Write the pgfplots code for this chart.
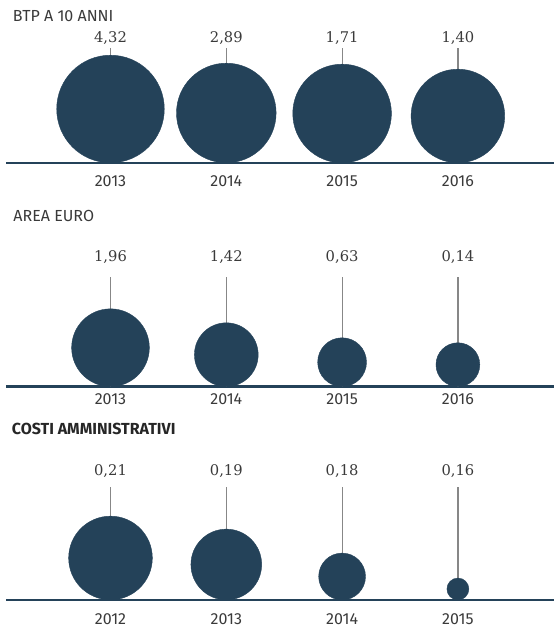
\documentclass[border=0pt]{standalone}
\usepackage{pgfplots}
\pgfplotsset{compat=1.18}
\usepackage{pgfplotstable}
\usepackage{fontspec}
\setmainfont{Fira Sans}
\newfontfamily\numfont{DejaVu Serif}

\definecolor{navy}{RGB}{36,66,89}
\definecolor{stem}{RGB}{135,135,135}
\definecolor{txt}{RGB}{58,58,58}

% x = position, d = bubble diameter (px), val = label, year = tick
\pgfplotstableread{
x d val year
0 108 4,32 2013
1 100 2,89 2014
2 99 1,71 2015
3 94 1,40 2016
}\btp
\pgfplotstableread{
x d val year
0 78 1,96 2013
1 64 1,42 2014
2 49 0,63 2015
3 44 0,14 2016
}\euro
\pgfplotstableread{
x d val year
0 84 0,21 2012
1 71 0,19 2013
2 47 0,18 2014
3 22 0,16 2015
}\costi

\pgfplotsset{
  panel/.style={
    scale only axis, width=548bp,
    xmin=-0.9024, xmax=3.8299,
    axis line style={draw=none}, tick style={draw=none},
    ytick=\empty, xtick={0,1,2,3},
    xticklabel style={inner sep=0pt, anchor=north, text=txt,
      font=\fontsize{16bp}{16bp}\selectfont},
    clip=false, anchor=south west,
  },
  bubbles/.style={scatter, only marks, mark=*,
    scatter/use mapped color={draw=navy, fill=navy},
    visualization depends on={\thisrow{d}/2 \as \rad},
    scatter/@pre marker code/.append style={/tikz/mark size=\rad}},
  vals/.style={draw=none, mark=none, nodes near coords,
    point meta=explicit symbolic,
    every node near coord/.append style={anchor=base, inner sep=0pt, text=txt,
      font=\numfont\fontsize{14.7bp}{14.7bp}\selectfont}},
}

\begin{document}
\begin{tikzpicture}
\useasboundingbox (0,0) rectangle (554bp,628bp);

% BTP A 10 ANNI
\begin{axis}[panel, at={(6bp,453bp)}, height=142bp, ymin=-12, ymax=130,
  xticklabels from table={\btp}{year}]
\addplot[navy, line width=2.5bp] coordinates {(-0.9024,0) (3.8299,0)};
\addplot[ycomb, stem, line width=1.2bp] table[x=x, y expr=114.7] {\btp};
\addplot[bubbles] table[x=x, y expr=\thisrow{d}/2] {\btp};
\addplot[vals] table[x=x, y expr=120.3, meta=val] {\btp};
\end{axis}

% AREA EURO
\begin{axis}[panel, at={(6bp,234.7bp)}, height=140bp, ymin=-6.6, ymax=133.4,
  xticklabels from table={\euro}{year}]
\addplot[navy, line width=2.5bp] coordinates {(-0.9024,0) (3.8299,0)};
\addplot[ycomb, stem, line width=1.2bp] table[x=x, y expr=110] {\euro};
\addplot[bubbles] table[x=x, y expr=\thisrow{d}/2] {\euro};
\addplot[vals] table[x=x, y expr=125, meta=val] {\euro};
\end{axis}

% COSTI AMMINISTRATIVI
\begin{axis}[panel, at={(6bp,15bp)}, height=148bp, ymin=-13, ymax=135,
  xticklabels from table={\costi}{year}]
\addplot[navy, line width=2.5bp] coordinates {(-0.9024,0) (3.8299,0)};
\addplot[ycomb, stem, line width=1.2bp] table[x=x, y expr=112.7] {\costi};
\addplot[bubbles] table[x=x, y expr=\thisrow{d}/2] {\costi};
\addplot[vals] table[x=x, y expr=125, meta=val] {\costi};
\end{axis}

\node[anchor=base west, inner sep=0pt, text=txt, font=\fontsize{16bp}{16bp}\selectfont]
  at (12.7bp,606.3bp) {BTP A 10 ANNI};
\node[anchor=base west, inner sep=0pt, text=txt, font=\fontsize{16bp}{16bp}\selectfont]
  at (13.3bp,406.3bp) {AREA EURO};
\node[anchor=base west, inner sep=0pt, text=black!85, font=\bfseries\fontsize{16bp}{16bp}\selectfont]
  at (11.7bp,193bp) {COSTI AMMINISTRATIVI};
\end{tikzpicture}
\end{document}
